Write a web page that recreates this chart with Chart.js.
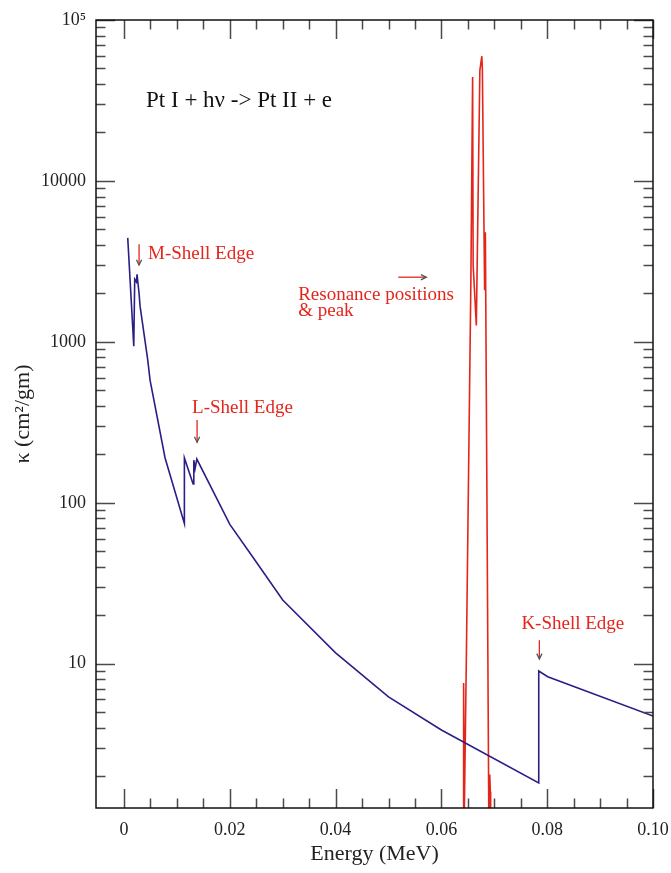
<!DOCTYPE html>
<html lang="en">
<head>
  <meta charset="UTF-8">
  <title>Pt I photoionization opacity</title>
  <script src="https://cdn.jsdelivr.net/npm/chart.js"></script>
  <style>
    html, body { margin: 0; padding: 0; background: #ffffff; }
    #wrap { width: 671px; height: 873px; }
  </style>
</head>
<body>
  <div id="wrap"><canvas id="opacity"></canvas></div>

  <script>
    // blue curve: photoionization cross section (M, L, K edges)
    const energyEdges = [0.0007, 0.00184, 0.00202, 0.00233, 0.00246, 0.00284, 0.00303, 0.00448, 0.00492,
      0.00776, 0.01141, 0.01141, 0.01306, 0.01319, 0.01343, 0.01376, 0.0200, 0.0245, 0.0300, 0.0400,
      0.0500, 0.0600, 0.0784, 0.0784, 0.0801, 0.1000];
    const kappaEdges = [4430, 940, 2450, 2360, 2630, 2005, 1667, 772, 578,
      190, 74.5, 190, 131, 184, 163, 187, 73.4, 45.2, 24.9, 11.7,
      6.22, 3.88, 1.82, 9.02, 8.3, 4.73];

    // red curve: resonances
    const energyRes = [0.06411, 0.06420, 0.06430, 0.06471, 0.06557, 0.06590, 0.06600, 0.06660, 0.06727,
      0.06764, 0.06774, 0.06817, 0.06831, 0.06897, 0.06914, 0.06925, 0.06931];
    const kappaRes = [1.0, 7.6, 1.0, 10.5, 2400, 44200, 3000, 1265, 48700,
      59600, 50000, 2095, 4800, 1.0, 2.05, 1.6, 1.0];

    const xMajorTicks = [0, 0.02, 0.04, 0.06, 0.08, 0.10];
    const yMajorTicks = [10, 100, 1000, 10000, 100000];

    // annotation texts, anchored in data coordinates
    const notes = [
      { text: 'Pt I + h\u03bd -> Pt II + e', x: 0.00416, y: 31200, color: '#111111', size: 23 },
      { text: 'M-Shell Edge', x: 0.00454, y: 3510, color: '#e3261c', size: 19 },
      { text: 'L-Shell Edge', x: 0.01287, y: 387, color: '#e3261c', size: 19 },
      { text: 'Resonance positions', x: 0.03292, y: 1950, color: '#e3261c', size: 19 },
      { text: '& peak', x: 0.03292, y: 1550, color: '#e3261c', size: 19 },
      { text: 'K-Shell Edge', x: 0.07512, y: 17.7, color: '#e3261c', size: 19 }
    ];
    const arrows = [
      { x1: 0.00284, y1: 4045, x2: 0.00284, y2: 3000 },
      { x1: 0.01381, y1: 327, x2: 0.01381, y2: 238 },
      { x1: 0.05184, y1: 2523, x2: 0.05714, y2: 2523 },
      { x1: 0.07852, y1: 14.0, x2: 0.07852, y2: 10.7 }
    ];

    const serif = '"Liberation Serif", "DejaVu Serif", serif';

    function toPoints(xs, ys) {
      return xs.map((x, i) => ({ x: x, y: ys[i] }));
    }

    // frame, inward ticks on all four sides, labels and arrows
    const framePlugin = {
      id: 'frame',
      afterDraw(chart) {
        const ctx = chart.ctx;
        const a = chart.chartArea;
        const xs = chart.scales.x;
        const ys = chart.scales.y;
        ctx.save();

        ctx.strokeStyle = '#4a4a4a';
        ctx.lineWidth = 1.5;
        ctx.beginPath();
        for (let v = 0; v <= 0.1001; v += 0.005) {
          const px = Math.round(xs.getPixelForValue(v)) + 0.5;
          const major = Math.abs(v / 0.02 - Math.round(v / 0.02)) < 1e-6;
          const len = major ? 19 : 9.5;
          ctx.moveTo(px, a.bottom); ctx.lineTo(px, a.bottom - len);
          ctx.moveTo(px, a.top); ctx.lineTo(px, a.top + len);
        }
        for (let e = 0; e <= 5; e++) {
          for (let k = 1; k <= 9; k++) {
            const v = k * Math.pow(10, e);
            if (v < ys.min || v > ys.max) continue;
            const py = Math.round(ys.getPixelForValue(v)) + 0.5;
            const len = k === 1 ? 19 : 9.5;
            ctx.moveTo(a.left, py); ctx.lineTo(a.left + len, py);
            ctx.moveTo(a.right, py); ctx.lineTo(a.right - len, py);
          }
        }
        ctx.stroke();

        ctx.strokeStyle = '#111111';
        ctx.lineWidth = 1.5;
        ctx.strokeRect(a.left, a.top, a.right - a.left, a.bottom - a.top);

        ctx.textBaseline = 'middle';
        ctx.textAlign = 'left';
        notes.forEach(n => {
          ctx.fillStyle = n.color;
          ctx.font = n.size + 'px ' + serif;
          ctx.fillText(n.text, xs.getPixelForValue(n.x), ys.getPixelForValue(n.y));
        });

        arrows.forEach(r => {
          const x1 = xs.getPixelForValue(r.x1), y1 = ys.getPixelForValue(r.y1);
          const x2 = xs.getPixelForValue(r.x2), y2 = ys.getPixelForValue(r.y2);
          const ang = Math.atan2(y2 - y1, x2 - x1);
          ctx.strokeStyle = '#e3261c';
          ctx.lineWidth = 1.3;
          ctx.beginPath();
          ctx.moveTo(x1, y1); ctx.lineTo(x2, y2);
          ctx.stroke();
          ctx.strokeStyle = '#555555';
          ctx.beginPath();
          ctx.moveTo(x2 - 6 * Math.cos(ang - 0.45), y2 - 6 * Math.sin(ang - 0.45));
          ctx.lineTo(x2, y2);
          ctx.lineTo(x2 - 6 * Math.cos(ang + 0.45), y2 - 6 * Math.sin(ang + 0.45));
          ctx.stroke();
        });
        ctx.restore();
      }
    };

    new Chart(document.getElementById('opacity'), {
      type: 'scatter',
      data: {
        datasets: [
          {
            label: 'edges',
            data: toPoints(energyEdges, kappaEdges),
            showLine: true,
            borderColor: '#2a1f85',
            borderWidth: 1.6,
            pointRadius: 0,
            tension: 0
          },
          {
            label: 'resonances',
            data: toPoints(energyRes, kappaRes),
            showLine: true,
            borderColor: '#e3261c',
            borderWidth: 1.6,
            pointRadius: 0,
            tension: 0
          }
        ]
      },
      options: {
        responsive: true,
        maintainAspectRatio: false,
        animation: false,
        events: [],
        layout: { padding: { left: 0, right: 18, top: 20, bottom: 0 } },
        plugins: {
          legend: { display: false },
          tooltip: { enabled: false }
        },
        scales: {
          x: {
            type: 'linear',
            min: -0.0053,
            max: 0.1,
            grid: { display: false, drawTicks: false },
            border: { display: false },
            afterBuildTicks: s => { s.ticks = xMajorTicks.map(v => ({ value: v })); },
            afterFit: s => { s.height = 65; s.paddingLeft = 0; s.paddingRight = 0; },
            ticks: {
              padding: 11,
              maxRotation: 0,
              color: '#222222',
              font: { family: serif, size: 18 },
              callback: v => (v === 0 ? '0' : v.toFixed(2))
            },
            title: {
              display: true,
              text: 'Energy (MeV)',
              color: '#222222',
              font: { family: serif, size: 22 },
              padding: { top: 2, bottom: 6 }
            }
          },
          y: {
            type: 'logarithmic',
            min: 1.27,
            max: 100000,
            grid: { display: false, drawTicks: false },
            border: { display: false },
            afterBuildTicks: s => { s.ticks = yMajorTicks.map(v => ({ value: v })); },
            afterFit: s => { s.width = 96; s.paddingTop = 0; s.paddingBottom = 0; },
            ticks: {
              padding: 10,
              color: '#222222',
              font: { family: serif, size: 18 },
              callback: v => (v === 100000 ? '10\u2075' : String(v))
            },
            title: {
              display: true,
              text: '\u03ba (cm\u00b2/gm)',
              color: '#222222',
              font: { family: serif, size: 22 },
              padding: { top: 10, bottom: 4 }
            }
          }
        }
      },
      plugins: [framePlugin]
    });
  </script>
</body>
</html>
